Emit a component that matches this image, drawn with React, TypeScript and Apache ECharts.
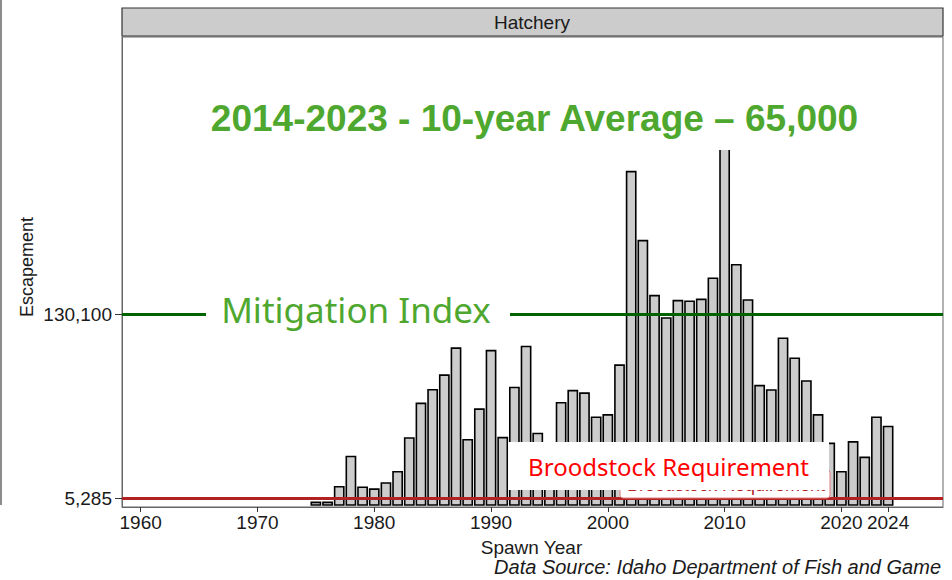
import React, { useEffect, useRef } from "react";
import * as echarts from "echarts";

const years: number[] = [
  1975, 1976, 1977, 1978, 1979, 1980, 1981, 1982, 1983, 1984,
  1985, 1986, 1987, 1988, 1989, 1990, 1991, 1992, 1993, 1994,
  1995, 1996, 1997, 1998, 1999, 2000, 2001, 2002, 2003, 2004,
  2005, 2006, 2007, 2008, 2009, 2010, 2011, 2012, 2013, 2014,
  2015, 2016, 2017, 2018, 2019, 2020, 2021, 2022, 2023, 2024,
];
const escapement: number[] = [
  2900, 2900, 13500, 34000, 13100, 11900, 16000, 23700, 46500, 70000,
  79300, 89200, 107500, 45400, 66100, 105800, 46800, 80800, 108600, 49600,
  30000, 70500, 78700, 77000, 60600, 62200, 96000, 227200, 180400, 143100,
  127900, 139700, 139300, 140600, 154900, 262000, 164100, 140200, 82100, 79100,
  114200, 100600, 85200, 62200, 42900, 23700, 43900, 33400, 60600, 54300,
];
const xTickValues: number[] = [1960, 1970, 1980, 1990, 2000, 2010, 2020, 2024];
const yTickValues: number[] = [5285, 130100];
const mitigationIndex = 130100;
const broodstockRequirement = 5285;

const fmt = (v: number) => v.toLocaleString("en-US");

export default function App() {
  const ref = useRef<HTMLDivElement>(null);
  useEffect(() => {
    if (!ref.current) return;
    const chart = echarts.init(ref.current, null, { renderer: "svg" });
    const axisFont = { fontFamily: "Liberation Sans", fontSize: 19, color: "#1a1a1a" };
    chart.setOption({
      animation: false,
      backgroundColor: "#ffffff",
      grid: {
        left: 122,
        right: 9,
        top: 37,
        bottom: 73,
        show: true,
        borderColor: "#666666",
        borderWidth: 1,
        backgroundColor: "#ffffff",
      },
      xAxis: {
        type: "value",
        min: 1958.4,
        max: 2028.7,
        splitLine: { show: false },
        axisLine: { show: true, onZero: false, lineStyle: { color: "#666666", width: 1 } },
        axisTick: { show: true, length: 5, customValues: xTickValues, lineStyle: { color: "#333333" } },
        axisLabel: {
          ...axisFont,
          margin: 6,
          customValues: xTickValues,
          formatter: (v: number) => String(v),
        },
      },
      yAxis: {
        type: "value",
        min: -800,
        max: 318000,
        splitLine: { show: false },
        axisLine: { show: true, lineStyle: { color: "#666666", width: 1 } },
        axisTick: { show: true, length: 7, customValues: yTickValues, lineStyle: { color: "#333333" } },
        axisLabel: {
          ...axisFont,
          margin: 10,
          customValues: yTickValues,
          formatter: (v: number) => fmt(v),
        },
      },
      series: [
        {
          type: "bar",
          data: years.map((y, i) => [y, escapement[i]]),
          barWidth: 10.8,
          itemStyle: { color: "#CCCCCC", borderColor: "#000000", borderWidth: 1.6 },
          markLine: {
            silent: true,
            symbol: "none",
            label: { show: false },
            data: [
              { yAxis: mitigationIndex, lineStyle: { color: "#006400", width: 3, type: "solid" } },
              { yAxis: broodstockRequirement, lineStyle: { color: "#B22222", width: 3, type: "solid" } },
            ],
          },
        },
      ],
      graphic: [
        { type: "line", shape: { x1: 1, y1: 0, x2: 1, y2: 505 }, style: { stroke: "#666666", lineWidth: 1.5 } },
        {
          type: "rect",
          shape: { x: 122, y: 8, width: 821, height: 28 },
          style: { fill: "#CCCCCC", stroke: "#333333", lineWidth: 1.2 },
        },
        {
          type: "text",
          x: 532,
          y: 22,
          style: {
            text: "Hatchery",
            font: "19px 'Liberation Sans'",
            fill: "#1a1a1a",
            textAlign: "center",
            textVerticalAlign: "middle",
          },
        },
        {
          type: "rect",
          shape: { x: 123, y: 38, width: 819, height: 112 },
          style: { fill: "#ffffff" },
          z: 100,
        },
        {
          type: "text",
          x: 534.5,
          y: 118,
          z: 101,
          style: {
            text: "2014-2023 - 10-year Average \u2013 65,000",
            font: "bold 37px 'Liberation Sans'",
            fill: "#4EA72E",
            textAlign: "center",
            textVerticalAlign: "middle",
          },
        },
        {
          type: "rect",
          shape: { x: 206, y: 290, width: 304, height: 40 },
          style: { fill: "#ffffff" },
          z: 100,
        },
        {
          type: "text",
          x: 356,
          y: 309,
          z: 101,
          style: {
            text: "Mitigation Index",
            font: "35px 'Noto Sans'",
            fill: "#4EA72E",
            textAlign: "center",
            textVerticalAlign: "middle",
          },
        },
        {
          type: "rect",
          shape: { x: 620, y: 470, width: 210, height: 28, r: 3 },
          style: { fill: "#ffffff", stroke: "#E08080", lineWidth: 1 },
          z: 100,
        },
        {
          type: "text",
          x: 726,
          y: 485,
          z: 101,
          style: {
            text: "Broodstock Requirement",
            font: "18px 'Liberation Sans'",
            fill: "#B22222",
            textAlign: "center",
            textVerticalAlign: "middle",
          },
        },
        {
          type: "rect",
          shape: { x: 508, y: 442, width: 321, height: 48 },
          style: { fill: "#ffffff" },
          z: 102,
        },
        {
          type: "text",
          x: 668.5,
          y: 466,
          z: 103,
          style: {
            text: "Broodstock Requirement",
            font: "24px 'Noto Sans'",
            fill: "#FF0000",
            textAlign: "center",
            textVerticalAlign: "middle",
          },
        },
        {
          type: "text",
          x: 27,
          y: 267,
          rotation: Math.PI / 2,
          style: {
            text: "Escapement",
            font: "18px 'Liberation Sans'",
            fill: "#1a1a1a",
            textAlign: "center",
            textVerticalAlign: "middle",
          },
        },
        {
          type: "text",
          x: 531.5,
          y: 547,
          style: {
            text: "Spawn Year",
            font: "19px 'Liberation Sans'",
            fill: "#1a1a1a",
            textAlign: "center",
            textVerticalAlign: "middle",
          },
        },
        {
          type: "text",
          x: 941,
          y: 567,
          style: {
            text: "Data Source: Idaho Department of Fish and Game",
            font: "italic 20px 'Liberation Sans'",
            fill: "#1a1a1a",
            textAlign: "right",
            textVerticalAlign: "middle",
          },
        },
      ],
    });
    return () => chart.dispose();
  }, []);
  return <div ref={ref} style={{ width: 952, height: 580, position: "absolute", left: 0, top: 0 }} />;
}
